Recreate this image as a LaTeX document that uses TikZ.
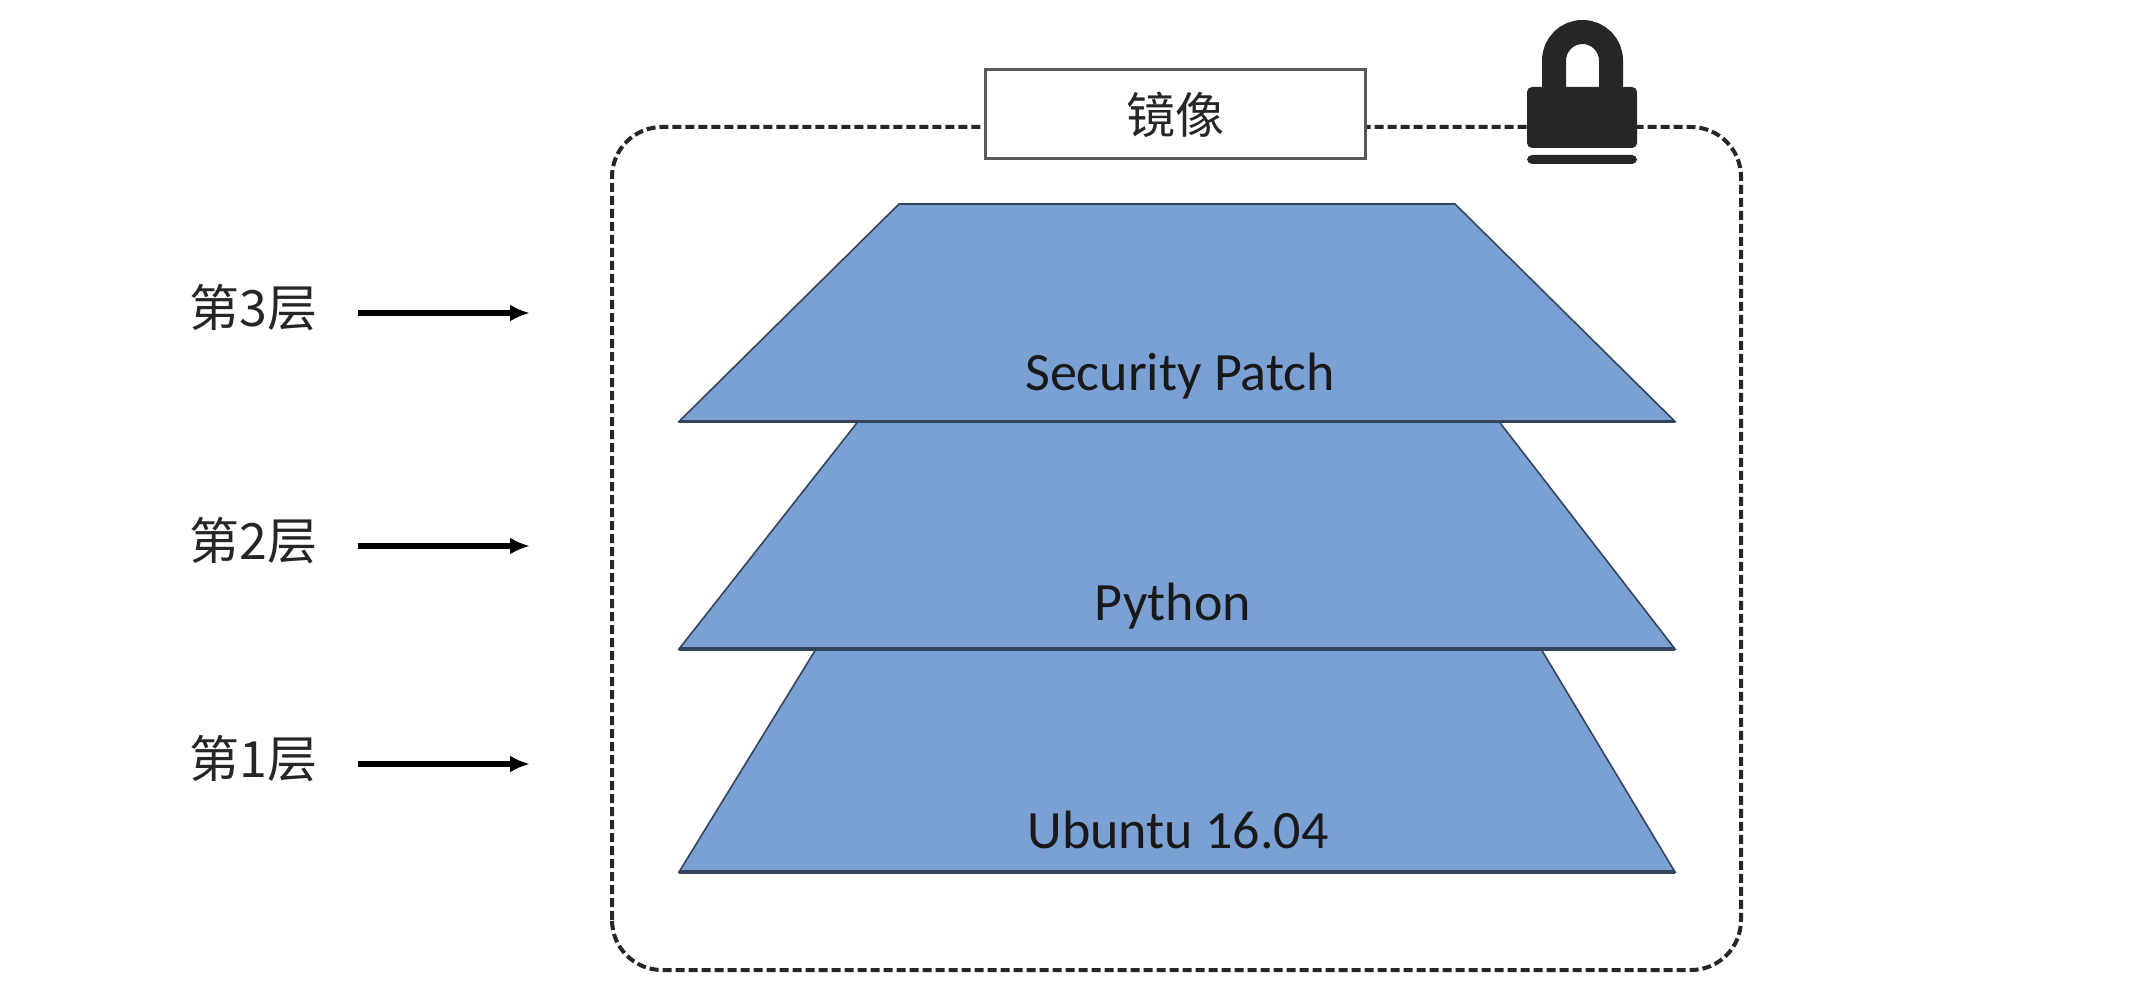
\documentclass[tikz,border=0pt]{standalone}
\usepackage{fontspec}
\setmainfont{Carlito}
\newfontfamily\cjk{Noto Sans CJK SC}
\usetikzlibrary{arrows.meta}
\definecolor{layerfill}{HTML}{7AA0D4}
\definecolor{layeredge}{HTML}{34445A}
\definecolor{lockc}{HTML}{262626}
\definecolor{boxedge}{HTML}{595959}
\begin{document}
\begin{tikzpicture}[x=0.5pt,y=0.5pt,
  layer/.style={fill=layerfill,draw=layeredge,line width=0.8pt,line join=miter},
  layerbase/.style={draw=layeredge,line width=1.6pt},
  layertext/.style={anchor=base,inner sep=0pt,font=\fontsize{27pt}{32pt}\selectfont,text=black!90},
  cnlabel/.style={anchor=west,inner sep=0pt,font=\cjk\fontsize{25pt}{30pt}\selectfont,text=black!85},
  arr/.style={line width=3pt,-{Latex[length=10pt,width=8.5pt]}},
  frame/.style={draw=black!85,line width=2pt,dash pattern=on 4.5pt off 2pt,rounded corners=25pt},
  titlebox/.style={draw=boxedge,fill=white,line width=1.5pt,minimum width=190pt,minimum height=44.5pt,inner sep=0pt,font=\cjk\fontsize{24.5pt}{30pt}\selectfont,text=black!85}]
\useasboundingbox (0,0) rectangle (2146,998);
\fill[white] (0,0) rectangle (2146,998);

% dashed image frame
\draw[frame] (612,28) rectangle (1741,871);

% title box
\node[titlebox] (title) at (1175,883.5) {镜像};

% lock
\draw[lockc,line width=12pt] (1554,905) -- (1554,937.5) arc[start angle=180,end angle=0,radius=14.25pt] -- (1611,905);
\fill[lockc,rounded corners=2.5pt] (1527,850) rectangle (1637,911);
\fill[lockc,rounded corners=2.5pt] (1527,834) rectangle (1637,843);

% layers (bottom first)
\path[layer] (679,126) -- (816,349) -- (1541,349) -- (1675,126) -- cycle;
\draw[layerbase] (679,126) -- (1675,126);
\path[layer] (679,349) -- (858,576.5) -- (1499,576.5) -- (1675,349) -- cycle;
\draw[layerbase] (679,349) -- (1675,349);
\path[layer] (679,576.5) -- (899,794) -- (1455,794) -- (1675,576.5) -- cycle;
\draw[layerbase] (679,576.5) -- (1675,576.5);

\node[layertext] (l3text) at (1180,608) {Security Patch};
\node[layertext] (l2text) at (1173,378) {Python};
\node[layertext] (l1text) at (1178,150) {Ubuntu 16.04};

% layer labels and arrows
\node[cnlabel] (lab3) at (189,690) {第3层};
\node[cnlabel] (lab2) at (189,457) {第2层};
\node[cnlabel] (lab1) at (189,239) {第1层};

\coordinate (a3s) at (358,685); \coordinate (a3e) at (530,685);
\coordinate (a2s) at (358,452); \coordinate (a2e) at (530,452);
\coordinate (a1s) at (358,234); \coordinate (a1e) at (530,234);
\draw[arr] (a3s) -- (a3e);
\draw[arr] (a2s) -- (a2e);
\draw[arr] (a1s) -- (a1e);
\end{tikzpicture}
\end{document}
